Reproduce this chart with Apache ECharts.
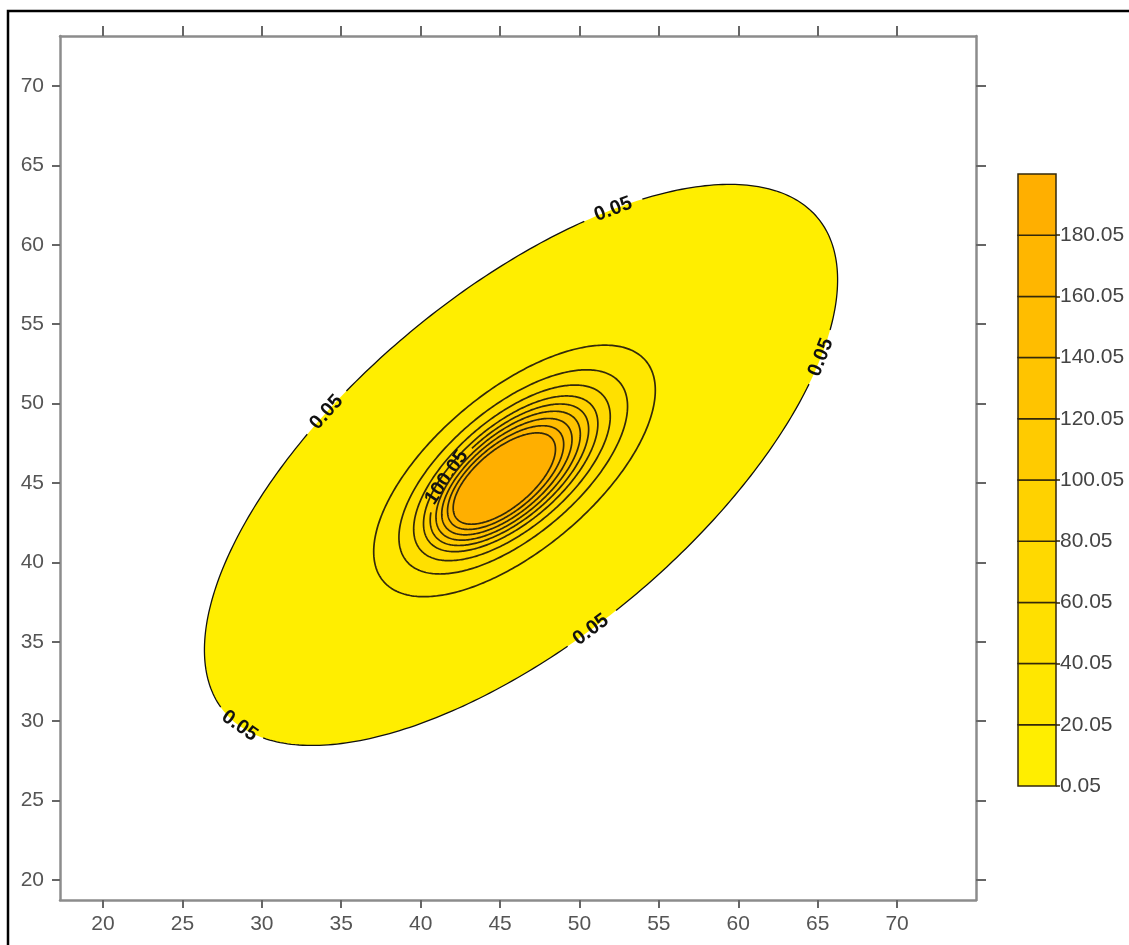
<!DOCTYPE html>
<html>
<head>
<meta charset="utf-8">
<script src="https://cdn.jsdelivr.net/npm/echarts@6/dist/echarts.min.js"></script>
<style>
  html, body { margin: 0; padding: 0; background: #fff; }
  #chart { width: 1129px; height: 945px; }
</style>
</head>
<body>
<div id="chart"></div>
<script>
const xTicks = [20, 25, 30, 35, 40, 45, 50, 55, 60, 65, 70];
const yTicks = [20, 25, 30, 35, 40, 45, 50, 55, 60, 65, 70];
const xRange = [17.29, 74.97];
const yRange = [18.74, 73.15];

// contour levels, also the breaks of the colour bar
const levels = [0.05, 20.05, 40.05, 60.05, 80.05, 100.05, 120.05, 140.05, 160.05, 180.05];
const levelTop = 200.05;

// every contour: centre, semi axes, tilt (deg)
const contourCx = [46.32, 45.91, 45.83, 45.75, 45.67, 45.59, 45.51, 45.43, 45.35, 45.27];
const contourCy = [46.14, 45.76, 45.70, 45.64, 45.58, 45.52, 45.46, 45.40, 45.34, 45.28];
const contourA = [24.31, 10.79, 8.76, 7.53, 6.68, 6.07, 5.53, 4.99, 4.45, 3.92];
const contourB = [10.89, 4.99, 4.05, 3.49, 3.09, 2.81, 2.56, 2.31, 2.06, 1.81];
const contourTilt = [39.8, 40, 40, 40, 40, 40, 40, 40, 40, 40];

// inline contour labels
const labelLevels = [0.05, 0.05, 0.05, 0.05, 0.05, 100.05];
const labelX = [52.18, 65.27, 34.23, 50.67, 28.81, 42.35];
const labelY = [62.38, 52.94, 49.41, 35.87, 29.89, 45.38];

const bandColors = ['#FFEE00', '#FFE700', '#FFE000', '#FFD900', '#FFD200',
                    '#FFCB00', '#FFC400', '#FFBD00', '#FFB600', '#FFAF00'];

const FONT = '"Liberation Sans", Arial, sans-serif';

function ellipsePoint(i, t) {
  const th = contourTilt[i] * Math.PI / 180;
  const dx = contourA[i] * Math.cos(t), dy = contourB[i] * Math.sin(t);
  return [contourCx[i] + dx * Math.cos(th) - dy * Math.sin(th),
          contourCy[i] + dx * Math.sin(th) + dy * Math.cos(th)];
}

function paramOf(i, x, y) {
  const th = contourTilt[i] * Math.PI / 180;
  const ox = x - contourCx[i], oy = y - contourCy[i];
  const u = ox * Math.cos(th) + oy * Math.sin(th);
  const v = -ox * Math.sin(th) + oy * Math.cos(th);
  return Math.atan2(v / contourB[i], u / contourA[i]);
}

function renderContour(params, api) {
  const i = params.dataIndex;
  const N = 360;
  const pts = [];
  for (let j = 0; j <= N; j++) pts.push(api.coord(ellipsePoint(i, 2 * Math.PI * j / N)));

  const children = [{
    type: 'polygon',
    shape: { points: pts.slice(0, N) },
    style: { fill: bandColors[i], stroke: null }
  }];

  const marks = [];
  const texts = [];
  labelLevels.forEach((lv, k) => {
    if (lv !== levels[i]) return;
    const t = paramOf(i, labelX[k], labelY[k]);
    const p = api.coord(ellipsePoint(i, t));
    const p1 = api.coord(ellipsePoint(i, t - 0.01));
    const p2 = api.coord(ellipsePoint(i, t + 0.01));
    let ang = Math.atan2(-(p2[1] - p1[1]), p2[0] - p1[0]);
    if (ang > Math.PI / 2) ang -= Math.PI;
    if (ang < -Math.PI / 2) ang += Math.PI;
    const txt = lv.toFixed(2);
    marks.push({ p: p, half: txt.length * 6 + 2 });
    texts.push({
      type: 'text', x: p[0], y: p[1], rotation: ang,
      style: {
        text: txt, fill: '#111', fontSize: 20, fontWeight: 'bold', fontFamily: FONT,
        align: 'center', verticalAlign: 'middle'
      }
    });
  });

  // outline, broken where a label sits
  const runs = [];
  let run = [];
  pts.forEach(q => {
    const hidden = marks.some(m => Math.hypot(q[0] - m.p[0], q[1] - m.p[1]) < m.half);
    if (hidden) {
      if (run.length > 1) runs.push(run);
      run = [];
    } else {
      run.push(q);
    }
  });
  if (run.length > 1) runs.push(run);
  if (runs.length > 1 && runs[0][0] === pts[0] && runs[runs.length - 1].slice(-1)[0] === pts[N]) {
    const last = runs.pop();
    runs[0] = last.concat(runs[0].slice(1));
  }
  runs.forEach(r => children.push({
    type: 'polyline',
    shape: { points: r },
    style: { fill: null, stroke: i === 0 ? '#111' : '#33290a', lineWidth: i === 0 ? 1.3 : 1.7 }
  }));

  return { type: 'group', children: children.concat(texts) };
}

function renderBand(params, api) {
  const p0 = api.coord([0, api.value(1)]);
  const p1 = api.coord([1, api.value(2)]);
  return {
    type: 'rect',
    shape: { x: p0[0], y: p1[1], width: p1[0] - p0[0], height: p0[1] - p1[1] },
    style: { fill: bandColors[params.dataIndex], stroke: '#33290a', lineWidth: 1.5 }
  };
}

const axisLine = { onZero: false, lineStyle: { color: '#8c8c8c', width: 2.5 } };
const tickStyle = { color: '#666', width: 2 };
const labelStyle = { color: '#555', fontSize: 21, fontFamily: FONT };

const chart = echarts.init(document.getElementById('chart'));
chart.setOption({
  animation: false,
  backgroundColor: '#fff',
  grid: [
    { left: 60, top: 36, right: 153, bottom: 45 },
    { left: 1018, top: 174, width: 38, height: 612 }
  ],
  xAxis: [
    {
      type: 'value', gridIndex: 0, position: 'bottom', min: xRange[0], max: xRange[1],
      axisLine: axisLine, splitLine: { show: false },
      axisTick: { customValues: xTicks, length: 8, lineStyle: tickStyle },
      axisLabel: Object.assign({ customValues: xTicks, margin: 14 }, labelStyle)
    },
    {
      type: 'value', gridIndex: 0, position: 'top', min: xRange[0], max: xRange[1],
      axisLine: axisLine, splitLine: { show: false },
      axisTick: { customValues: xTicks, length: 10, lineStyle: tickStyle },
      axisLabel: { show: false }
    },
    { type: 'value', gridIndex: 1, min: 0, max: 1, show: false }
  ],
  yAxis: [
    {
      type: 'value', gridIndex: 0, position: 'left', min: yRange[0], max: yRange[1],
      axisLine: axisLine, splitLine: { show: false },
      axisTick: { customValues: yTicks, length: 8, lineStyle: tickStyle },
      axisLabel: Object.assign({ customValues: yTicks, margin: 16 }, labelStyle)
    },
    {
      type: 'value', gridIndex: 0, position: 'right', min: yRange[0], max: yRange[1],
      axisLine: axisLine, splitLine: { show: false },
      axisTick: { customValues: yTicks, length: 10, lineStyle: tickStyle },
      axisLabel: { show: false }
    },
    {
      type: 'value', gridIndex: 1, position: 'right', min: levels[0], max: levelTop,
      axisLine: { show: false, onZero: false }, splitLine: { show: false },
      axisTick: { customValues: levels, length: 4, lineStyle: { color: '#33290a', width: 1.5 } },
      axisLabel: {
        customValues: levels, margin: 4, color: '#444', fontSize: 21, fontFamily: FONT,
        formatter: v => v.toFixed(2)
      }
    }
  ],
  series: [
    {
      type: 'custom', xAxisIndex: 0, yAxisIndex: 0,
      data: levels.map((lv, i) => [contourCx[i], contourCy[i], lv]),
      renderItem: renderContour, silent: true
    },
    {
      type: 'custom', xAxisIndex: 2, yAxisIndex: 2,
      data: levels.map((lv, i) => [0, lv, i < levels.length - 1 ? levels[i + 1] : levelTop]),
      renderItem: renderBand, silent: true
    }
  ],
  graphic: [{
    type: 'rect', z: 100,
    shape: { x: 8, y: 11, width: 1140, height: 960 },
    style: { fill: null, stroke: '#000', lineWidth: 2.5 }
  }]
});
</script>
</body>
</html>
